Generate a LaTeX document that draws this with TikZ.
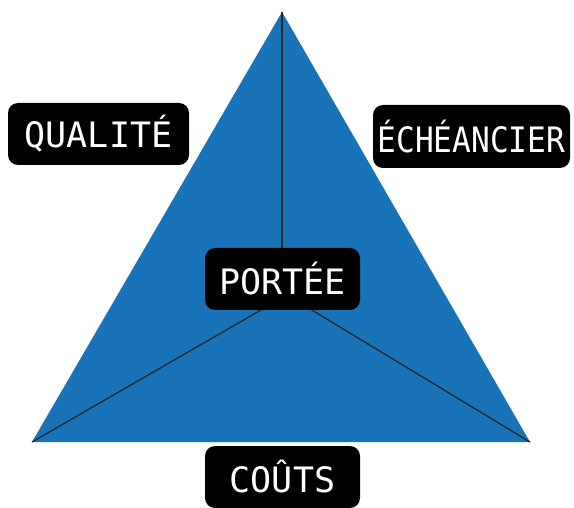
\documentclass[tikz,border=0pt]{standalone}
\usepackage{fontspec}
\setmonofont{DejaVu Sans Mono}
\definecolor{triblue}{RGB}{24,115,184}
\begin{document}
\begin{tikzpicture}[x=1pt,y=-1pt,
  lbl/.style={fill=black,text=white,rounded corners=10pt,inner sep=0pt,
    font=\ttfamily\fontsize{35}{35}\selectfont},
  edge/.style={draw=black!85,line width=1.3pt}]
\useasboundingbox (0,0) rectangle (574,508);
\coordinate (A) at (282,12);
\coordinate (L) at (32,442);
\coordinate (R) at (530,442);
\coordinate (CV) at (282,295);
\coordinate (C) at (287,295);
\fill[triblue] (A) -- (L) -- (R) -- cycle;
\draw[edge] (A) -- (CV);
\draw[edge] (L) -- (C);
\draw[edge] (R) -- (C);
\node[lbl,minimum width=181pt,minimum height=62pt] (q) at (98.5,134) {QUALITÉ};
\node[lbl,minimum width=197pt,minimum height=63pt] (e) at (471.5,136.5) {\scalebox{0.89}[1]{ÉCHÉANCIER}};
\node[lbl,minimum width=155pt,minimum height=62pt] (p) at (282.5,279) {PORTÉE};
\node[lbl,minimum width=155pt,minimum height=62pt] (c) at (282.5,477) {COÛTS};
\end{tikzpicture}
\end{document}
